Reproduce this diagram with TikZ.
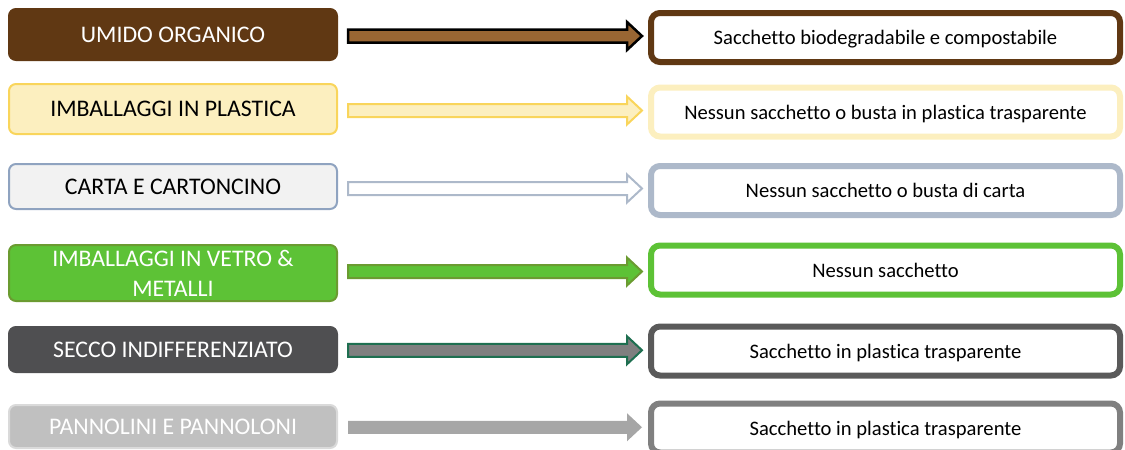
\documentclass[tikz,border=0pt]{standalone}
\usepackage{fontspec}
\setmainfont{Carlito}[Ligatures=NoCommon]
\usetikzlibrary{calc}

\definecolor{umidoBrown}{HTML}{603813}
\definecolor{umidoArrow}{HTML}{996633}
\definecolor{plasticaFill}{HTML}{FCEFBF}
\definecolor{plasticaLine}{HTML}{F9D55B}
\definecolor{cartaFill}{HTML}{F2F2F2}
\definecolor{cartaLine}{HTML}{8FA3C0}
\definecolor{cartaBag}{HTML}{ADB9CA}
\definecolor{vetroGreen}{HTML}{5DC236}
\definecolor{vetroLine}{HTML}{6B9B31}
\definecolor{seccoFill}{HTML}{4F4F51}
\definecolor{seccoArrow}{HTML}{7F7F7F}
\definecolor{seccoEdge}{HTML}{1E6F50}
\definecolor{seccoBag}{HTML}{5A5A5A}
\definecolor{pannoFill}{HTML}{C0C0C0}
\definecolor{pannoLine}{HTML}{DADADA}
\definecolor{pannoArrow}{HTML}{A6A6A6}
\definecolor{pannoBag}{HTML}{808080}

% block arrow from the east side of #2 to the west side of #3
\newcommand{\fatarrow}[3][]{%
	\draw[#1] let \p1=(#2.east), \p2=(#3.west), \n1={(\y1+\y2)/2} in
		(\x1+10pt,\n1+6.5pt) -- (\x2-21pt,\n1+6.5pt) -- (\x2-21pt,\n1+14pt)
		-- (\x2-6pt,\n1) -- (\x2-21pt,\n1-14pt) -- (\x2-21pt,\n1-6.5pt)
		-- (\x1+10pt,\n1-6.5pt) -- cycle;}

\begin{document}
\begin{tikzpicture}
	[x=1pt,y=-1pt,
	bin/.style={rectangle,rounded corners=7pt,line width=2pt,minimum width=328pt,
		inner sep=0pt,align=center,font=\fontsize{23.8}{30}\selectfont},
	bag/.style={rectangle,rounded corners=9pt,line width=6pt,fill=white,minimum width=469pt,
		minimum height=49pt,inner sep=0pt,text depth=0pt,font=\fontsize{20.6}{24}\selectfont},
	arr/.style={line width=2pt,line join=miter}
	]
	\useasboundingbox (0,0) rectangle (1125,450);

	\node[bin,fill=umidoBrown,draw=umidoBrown,text=white,minimum height=51pt] (umido) at (173,34.5) {UMIDO ORGANICO};
	\node[bin,fill=plasticaFill,draw=plasticaLine,minimum height=50pt] (plastica) at (173,109) {IMBALLAGGI IN PLASTICA};
	\node[bin,fill=cartaFill,draw=cartaLine,minimum height=45pt] (carta) at (173,186.5) {CARTA E CARTONCINO};
	\node[bin,fill=vetroGreen,draw=vetroLine,text=white,minimum height=56pt] (vetro) at (173,273) {IMBALLAGGI IN VETRO \&\\METALLI};
	\node[bin,fill=seccoFill,draw=seccoFill,text=white,minimum height=45pt] (secco) at (173,349.5) {SECCO INDIFFERENZIATO};
	\node[bin,fill=pannoFill,draw=pannoLine,text=white,minimum height=43pt] (pannolini) at (173,426.5) {PANNOLINI E PANNOLONI};

	\node[bag,draw=umidoBrown] (sacUmido) at (885.5,37.5) {Sacchetto biodegradabile e compostabile};
	\node[bag,draw=plasticaFill] (sacPlastica) at (885.5,112) {Nessun sacchetto o busta in plastica trasparente};
	\node[bag,draw=cartaBag] (sacCarta) at (885.5,190.5) {Nessun sacchetto o busta di carta};
	\node[bag,draw=vetroGreen] (sacVetro) at (885.5,270) {Nessun sacchetto};
	\node[bag,draw=seccoBag] (sacSecco) at (885.5,351) {Sacchetto in plastica trasparente};
	\node[bag,draw=pannoBag] (sacPannolini) at (885.5,428) {Sacchetto in plastica trasparente};

	\fatarrow[arr,fill=umidoArrow,draw=black,line width=2.5pt]{umido}{sacUmido}
	\fatarrow[arr,fill=plasticaFill,draw=plasticaLine]{plastica}{sacPlastica}
	\fatarrow[arr,fill=white,draw=cartaBag]{carta}{sacCarta}
	\fatarrow[arr,fill=vetroGreen,draw=vetroLine]{vetro}{sacVetro}
	\fatarrow[arr,fill=seccoArrow,draw=seccoEdge]{secco}{sacSecco}
	\fatarrow[arr,fill=pannoArrow,draw=none]{pannolini}{sacPannolini}
\end{tikzpicture}
\end{document}
